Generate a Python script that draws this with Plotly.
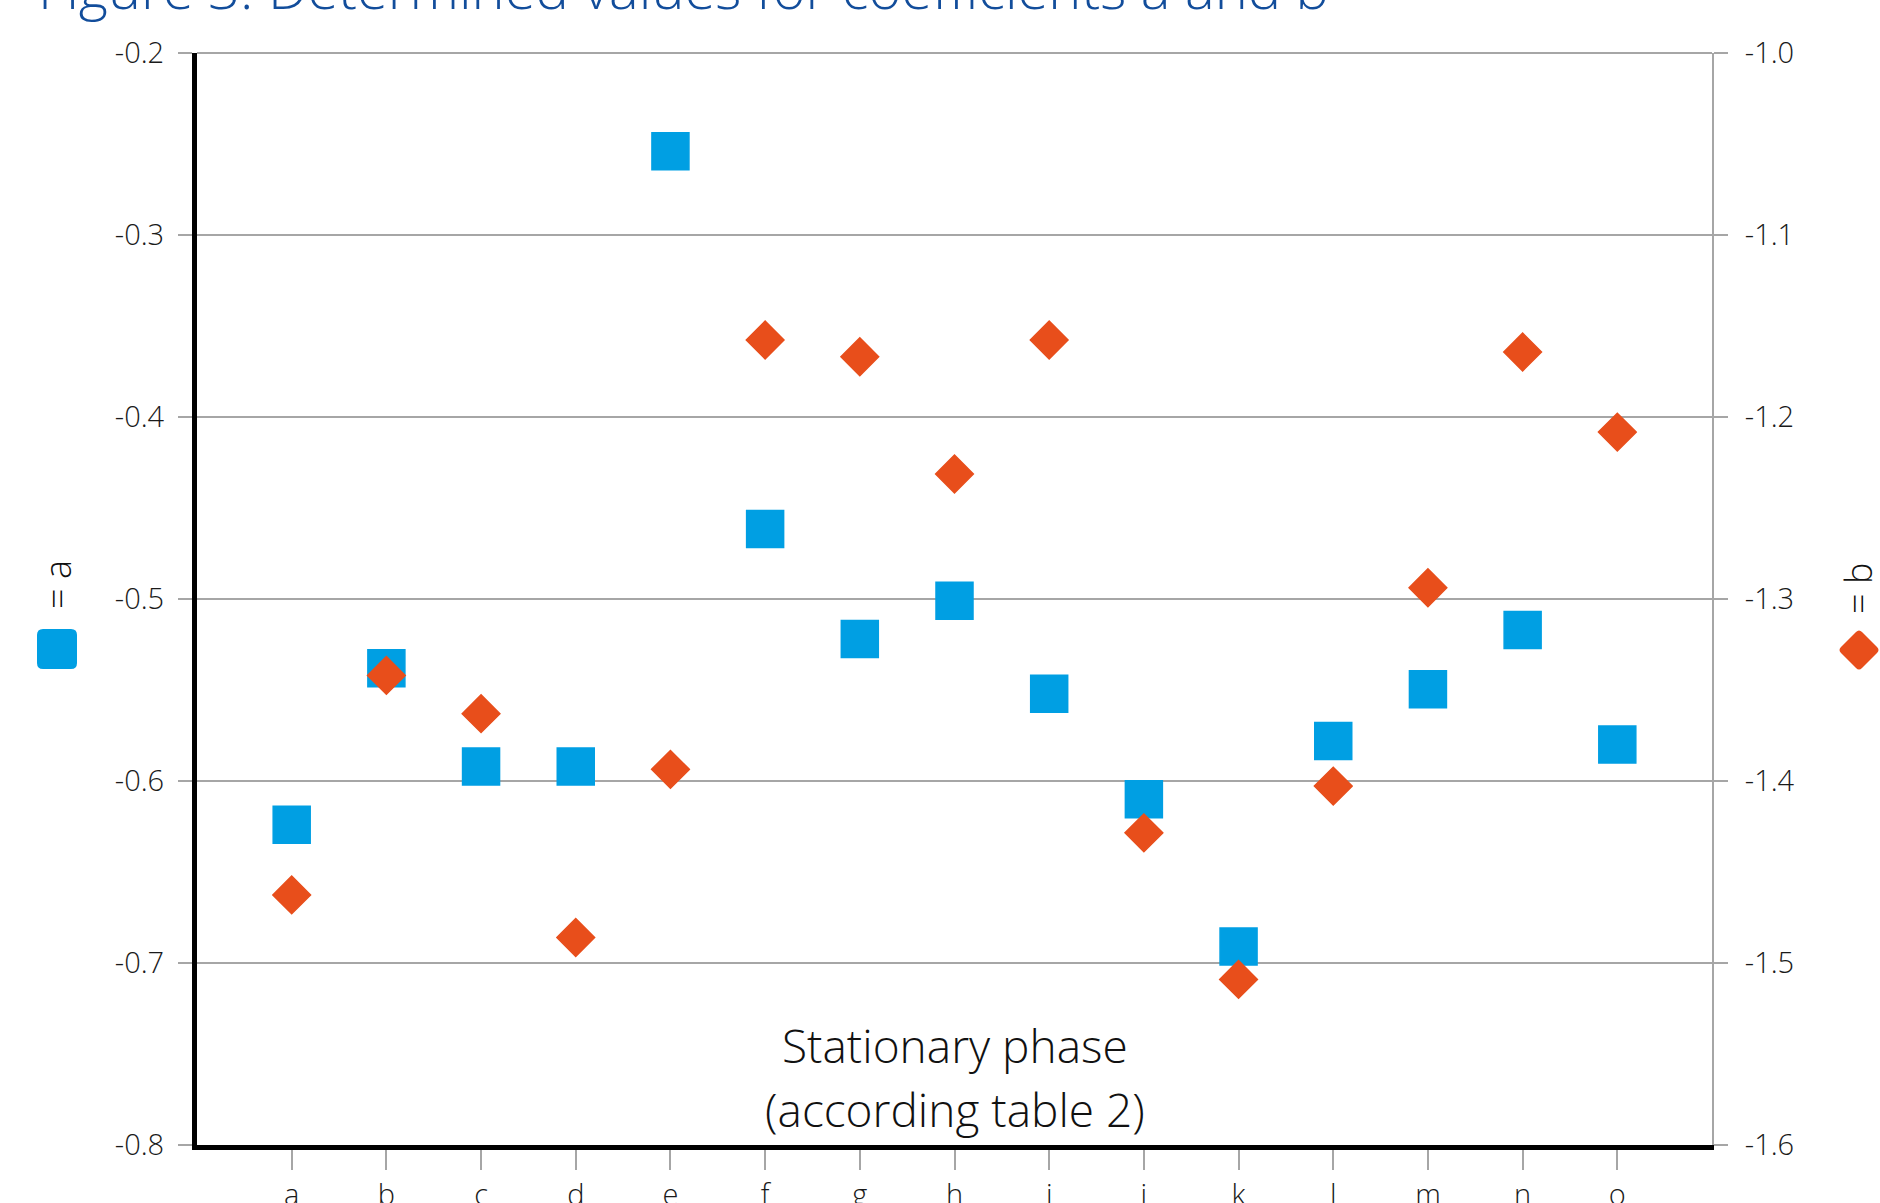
import plotly.graph_objects as go

categories = ["a", "b", "c", "d", "e", "f", "g", "h", "i", "j", "k", "l", "m", "n", "o"]
coef_a = [-0.624, -0.538, -0.592, -0.592, -0.254, -0.4615, -0.522, -0.501, -0.552,
          -0.610, -0.691, -0.578, -0.5496, -0.517, -0.580]
coef_b = [-1.4626, -1.342, -1.363, -1.486, -1.3936, -1.1577, -1.1669, -1.2313, -1.1577,
          -1.4285, -1.509, -1.4028, -1.2938, -1.1643, -1.2083]
left_ticks = [-0.8, -0.7, -0.6, -0.5, -0.4, -0.3, -0.2]
left_ticktext = ["-0.8", "-0.7", "-0.6", "-0.5", "-0.4", "-0.3", "-0.2"]
right_ticks = [-1.6, -1.5, -1.4, -1.3, -1.2, -1.1, -1.0]
right_ticktext = ["-1.6", "-1.5", "-1.4", "-1.3", "-1.2", "-1.1", "-1.0"]

BLUE = "#009fe3"
ORANGE = "#e84e1b"
GRID = "#a6a6a6"
FONT = "Open Sans"

W, H = 1880, 1203
L, R, T, B = 197, 168, 53, 58
PW, PH = W - L - R, H - T - B


def px(x):
    return (x - L) / PW


def py(y):
    return (H - B - y) / PH


xs = list(range(len(categories)))

fig = go.Figure()
fig.add_trace(go.Scatter(
    x=xs, y=coef_a, mode="markers", yaxis="y", name="a",
    marker=dict(symbol="square", size=37, color=BLUE, line=dict(width=1.5, color=BLUE)),
    showlegend=False, cliponaxis=False))
fig.add_trace(go.Scatter(
    x=xs, y=coef_b, mode="markers", yaxis="y2", name="b",
    marker=dict(symbol="diamond", size=29, color=ORANGE, line=dict(width=1.5, color=ORANGE)),
    showlegend=False, cliponaxis=False))

tickfont = dict(family=FONT, size=29, color="#1a1a1a", weight=300)

fig.update_layout(
    width=W, height=H,
    margin=dict(l=L, r=R, t=T, b=B, autoexpand=False),
    paper_bgcolor="white", plot_bgcolor="white",
    font=dict(family=FONT, weight=300),
    xaxis=dict(range=[-1, 15], tickvals=xs, ticktext=categories, ticks="outside",
               ticklen=20, tickwidth=2, tickcolor=GRID, showgrid=False, zeroline=False,
               showline=True, linecolor="black", linewidth=5, tickfont=tickfont),
    yaxis=dict(range=[-0.8, -0.2], tickvals=left_ticks, ticktext=left_ticktext,
               ticks="outside", ticklen=14, tickwidth=2, tickcolor=GRID,
               ticklabelstandoff=8,
               showgrid=True, gridcolor=GRID, gridwidth=2, zeroline=False,
               showline=True, linecolor="black", linewidth=5, tickfont=tickfont),
    yaxis2=dict(range=[-1.6, -1.0], tickvals=right_ticks, ticktext=right_ticktext,
                overlaying="y", side="right", ticks="outside", ticklen=14, tickwidth=2,
                ticklabelstandoff=11,
                tickcolor=GRID, showgrid=False, zeroline=False, showline=True,
                linecolor=GRID, linewidth=2, tickfont=tickfont),
)

# top border line
fig.add_shape(type="line", xref="paper", yref="paper", x0=0, x1=1, y0=1, y1=1,
              line=dict(color=GRID, width=2), layer="below")

# title (partly cut at top)
fig.add_annotation(text="Figure 3: Determined values for coefficients a and b",
                   xref="paper", yref="paper", x=px(36), y=py(27),
                   xanchor="left", yanchor="bottom", showarrow=False,
                   font=dict(family=FONT, size=56, color="#124d9b", weight=300))

# x-axis title inside plot
fig.add_annotation(text="Stationary phase", xref="paper", yref="paper",
                   x=0.5, y=py(1045), xanchor="center", yanchor="middle", showarrow=False,
                   font=dict(family=FONT, size=46, color="#111111", weight=300))
fig.add_annotation(text="(according table 2)", xref="paper", yref="paper",
                   x=0.5, y=py(1109), xanchor="center", yanchor="middle", showarrow=False,
                   font=dict(family=FONT, size=46, color="#111111", weight=300))

# legend texts
legfont = dict(family=FONT, size=36, color="#111111", weight=300)
fig.add_annotation(text="= a", xref="paper", yref="paper", x=px(57), y=py(585),
                   xanchor="center", yanchor="middle",
                   textangle=-90, showarrow=False, font=legfont)
fig.add_annotation(text="= b", xref="paper", yref="paper", x=px(1858), y=py(589),
                   xanchor="center", yanchor="middle",
                   textangle=-90, showarrow=False, font=legfont)

# legend swatches
rsq = ("M -20,-14 Q -20,-20 -14,-20 L 14,-20 Q 20,-20 20,-14 L 20,14 "
       "Q 20,20 14,20 L -14,20 Q -20,20 -20,14 Z")
fig.add_shape(type="path", xref="paper", yref="paper", xsizemode="pixel",
              ysizemode="pixel", xanchor=px(57), yanchor=py(649), path=rsq,
              fillcolor=BLUE, line=dict(width=0))
dia = "M -3,-18 Q 0,-21 3,-18 L 18,-3 Q 21,0 18,3 L 3,18 Q 0,21 -3,18 L -18,3 Q -21,0 -18,-3 Z"
fig.add_shape(type="path", xref="paper", yref="paper", xsizemode="pixel",
              ysizemode="pixel", xanchor=px(1859), yanchor=py(650), path=dia,
              fillcolor=ORANGE, line=dict(width=0))

fig.write_html("out.html", config={"displayModeBar": False},
               post_script="document.body.style.margin='0';document.body.style.overflow='hidden';")
